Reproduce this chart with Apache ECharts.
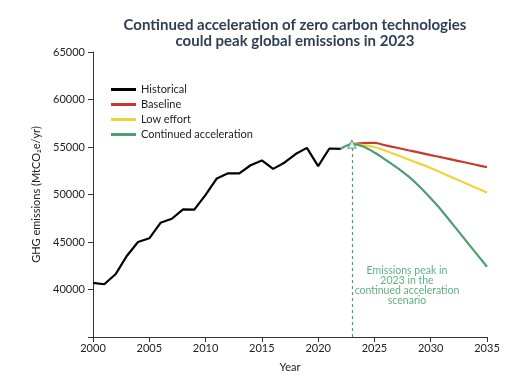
<!DOCTYPE html>
<html>
<head>
<meta charset="utf-8">
<script src="https://cdn.jsdelivr.net/npm/echarts@6/dist/echarts.min.js"></script>
<style>html,body{margin:0;padding:0;background:#fff}#c{width:512px;height:378px}</style>
</head>
<body>
<div id="c"></div>
<script>
var histYears = [2000,2001,2002,2003,2004,2005,2006,2007,2008,2009,2010,2011,2012,2013,2014,2015,2016,2017,2018,2019,2020,2021,2022];
var histValues = [40700,40550,41600,43530,45000,45390,47020,47450,48440,48400,49960,51690,52230,52230,53080,53590,52700,53350,54260,54910,52980,54840,54810];
var projYears = [2023,2024,2025,2026,2027,2028,2029,2030,2031,2032,2033,2034,2035];
var baselineValues = [55300,55420,55430,55170,54920,54660,54410,54150,53900,53640,53390,53130,52880];
var lowEffortValues = [55300,55200,55000,54600,54150,53700,53250,52780,52270,51750,51230,50720,50200];
var accelYears = [2022,2023,2024,2025,2026,2027,2028,2029,2030,2031,2032,2033,2034,2035];
var accelValues = [54810,55300,55050,54420,53650,52830,51930,50850,49600,48270,46800,45330,43860,42400];
var peakYear = 2023, peakValue = 55300;
var yTicks = [35000,40000,45000,50000,55000,60000,65000];
var xTicks = [2000,2005,2010,2015,2020,2025,2030,2035];

function zip(a,b){return a.map(function(x,i){return [x,b[i]];});}

var FONT = 'Lato, "Open Sans", sans-serif';
var GREEN = '#4c9d6f';
var chart = echarts.init(document.getElementById('c'));
chart.setOption({
  animation:false,
  title:{
    text:'Continued acceleration of zero carbon technologies\ncould peak global emissions in 2023',
    left:290, top:12, textAlign:'center',
    textStyle:{fontFamily:FONT,fontSize:15,fontWeight:'bold',color:'#2e3f52',lineHeight:16}
  },
  grid:{left:93,right:25,top:52,bottom:32},
  legend:{
    orient:'vertical', left:106, top:79, itemWidth:25, itemHeight:3, itemGap:4,
    icon:'rect',
    textStyle:{fontFamily:FONT,fontSize:11,color:'#222'},
    data:['Historical','Baseline','Low effort','Continued acceleration']
  },
  xAxis:{
    type:'value', min:xTicks[0], max:xTicks[xTicks.length-1], interval:5,
    name:'Year', nameLocation:'middle', nameGap:25,
    nameTextStyle:{fontFamily:FONT,fontSize:11,color:'#222'},
    axisLine:{lineStyle:{color:'#333',width:1}},
    axisTick:{length:5,lineStyle:{color:'#333'}},
    axisLabel:{fontFamily:FONT,fontSize:11,color:'#222',margin:6,
      formatter:function(v){return String(v);}},
    splitLine:{show:false}
  },
  yAxis:{
    type:'value', min:yTicks[0], max:yTicks[yTicks.length-1], interval:5000,
    name:'GHG emissions (MtCO\u2082e/yr)', nameLocation:'middle', nameGap:42,
    nameTextStyle:{fontFamily:FONT,fontSize:11,color:'#222'},
    axisLine:{show:true,lineStyle:{color:'#333',width:1}},
    axisTick:{show:true,length:5,lineStyle:{color:'#333'}},
    axisLabel:{fontFamily:FONT,fontSize:11,color:'#222',margin:8,
      formatter:function(v){return v===yTicks[0]?'':String(v);}},
    splitLine:{show:false}
  },
  graphic:[{
    type:'text', x:407, y:266,
    style:{text:'Emissions peak in\n2023 in the\ncontinued acceleration\nscenario',
      align:'center', textAlign:'center', fontFamily:FONT, fontSize:10.5, lineHeight:10, fill:'#5fae84'}
  }],
  series:[
    {name:'Historical',type:'line',data:zip(histYears,histValues),showSymbol:false,
      lineStyle:{color:'#000',width:2.2},itemStyle:{color:'#000'}},
    {name:'Baseline',type:'line',data:zip(projYears,baselineValues),showSymbol:false,smooth:0.3,
      lineStyle:{color:'#c7392d',width:2.2},itemStyle:{color:'#c7392d'}},
    {name:'Low effort',type:'line',data:zip(projYears,lowEffortValues),showSymbol:false,smooth:0.3,
      lineStyle:{color:'#ecd63c',width:2.2},itemStyle:{color:'#ecd63c'}},
    {name:'Continued acceleration',type:'line',data:zip(accelYears,accelValues),showSymbol:false,smooth:0.3,
      lineStyle:{color:GREEN,width:2.2},itemStyle:{color:GREEN},
      markLine:{symbol:'none',silent:true,label:{show:false},
        lineStyle:{color:GREEN,type:[3,3],width:1.2},
        data:[[{coord:[peakYear,yTicks[0]]},{coord:[peakYear,peakValue]}]]}},
    {name:'peak',type:'scatter',data:[[peakYear,peakValue]],symbol:'triangle',symbolSize:8,
      itemStyle:{color:'#fff',borderColor:GREEN,borderWidth:1.2},z:5}
  ]
});
</script>
</body>
</html>
